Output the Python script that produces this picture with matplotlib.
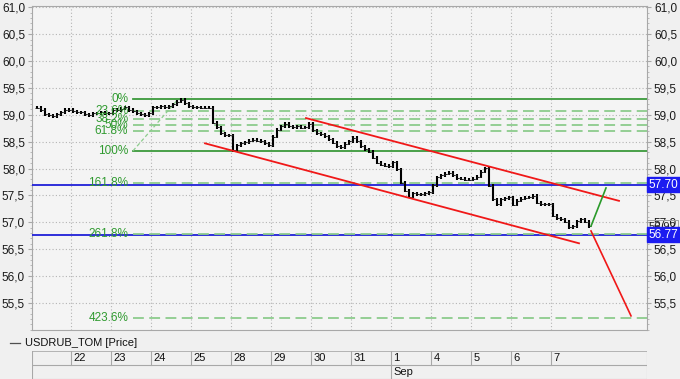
import numpy as np
import matplotlib
matplotlib.use("Agg")
import matplotlib.pyplot as plt
import matplotlib.transforms as mtransforms

plt.rcParams['font.family'] = ['Liberation Sans', 'DejaVu Sans']

# ---------------- data ----------------
day_labels = ["22", "23", "24", "25", "28", "29", "30", "31", "1", "4", "5", "6", "7"]
month_label = "Sep"
month_start_index = 8
series_name = "USDRUB_TOM [Price]"

# hourly closes (10 bars per trading day, 9 bars of the partial day before "22")
closes = [
    59.13, 59.09, 59.01, 58.99, 58.97, 59.01, 59.05, 59.09, 59.09,          # 21 (partial)
    59.07, 59.05, 59.05, 59.01, 58.99, 59.03, 59.03, 59.05, 59.03, 59.03,   # 22
    59.09, 59.09, 59.11, 59.14, 59.09, 59.07, 59.03, 59.01, 58.99, 59.03,   # 23
    59.14, 59.14, 59.16, 59.14, 59.16, 59.20, 59.24, 59.28, 59.22, 59.16,   # 24
    59.14, 59.14, 59.13, 59.13, 59.13, 58.85, 58.77, 58.66, 58.62, 58.62,   # 25
    58.34, 58.43, 58.47, 58.49, 58.52, 58.54, 58.52, 58.51, 58.47, 58.43,   # 28
    58.59, 58.72, 58.79, 58.83, 58.79, 58.77, 58.79, 58.76, 58.77, 58.83,   # 29
    58.71, 58.66, 58.64, 58.60, 58.55, 58.48, 58.42, 58.40, 58.46, 58.51,   # 30
    58.57, 58.51, 58.42, 58.36, 58.31, 58.20, 58.11, 58.07, 58.05, 58.04,   # 31
    58.12, 57.99, 57.74, 57.59, 57.48, 57.54, 57.52, 57.52, 57.54, 57.56,   # 1 Sep
    57.69, 57.84, 57.88, 57.90, 57.92, 57.88, 57.82, 57.81, 57.79, 57.79,   # 4
    57.81, 57.85, 57.94, 58.01, 57.68, 57.43, 57.34, 57.43, 57.45, 57.47,   # 5
    57.33, 57.40, 57.44, 57.46, 57.47, 57.49, 57.36, 57.34, 57.34, 57.34,   # 6
    57.12, 57.08, 57.06, 57.01, 56.91, 56.93, 57.02, 57.06, 57.01, 56.93,   # 7
]
first_bar_offset = -9   # bars before the first labelled day

# Fibonacci retracement
fib_high = 59.29
fib_low = 58.33
fib_ratios = [0.0, 0.236, 0.382, 0.5, 0.618, 1.0, 1.618, 2.618, 4.236]
fib_texts = ["0%", "23.6%", "38.2%", "50%", "61.8%", "100%", "161.8%", "261.8%", "423.6%"]
fib_start_x = 1.55
fib_trend_x = [1.55, 2.675]

# horizontal levels
blue_levels = [57.70, 56.77]
blue_texts = ["57.70", "56.77"]
last_price = 56.92

# channel & projections (x in day units, y in price)
channel_upper_x = [5.875, 13.7]
channel_upper_y = [58.94, 57.40]
channel_lower_x = [3.35, 12.7]
channel_lower_y = [58.47, 56.61]
proj_up_x = [13.0, 13.375]
proj_up_y = [56.93, 57.64]
proj_down_x = [13.0, 14.0]
proj_down_y = [56.84, 55.26]

# ---------------- layout ----------------
W, H = 680, 379
fig = plt.figure(figsize=(W / 100, H / 100), dpi=100)
BG = "#f0f0f0"
fig.patch.set_facecolor(BG)

def fx(px):
    return px / W

def fy(py):
    return 1 - py / H

L, R, T, B = 32, 647, 6, 330
ax = fig.add_axes([fx(L), fy(B), fx(R - L), (B - T) / H])
ax.set_facecolor("#f4f4f4")
XMIN, XMAX = -0.975, 14.4
ax.set_xlim(XMIN, XMAX)
ax.set_ylim(54.997, 61.025)

for s in ax.spines.values():
    s.set_color("#a8a8a8")
    s.set_linewidth(0.8)

yt = np.arange(55.5, 61.01, 0.5)
ax.set_yticks(yt)
ax.set_yticklabels([f"{v:.1f}".replace(".", ",") for v in yt])
ax.set_yticks(np.arange(55.0, 61.01, 0.1), minor=True)
ax.tick_params(axis="y", which="major", left=True, right=True, labelleft=True, labelright=True,
               length=3, width=0.8, color="#a8a8a8", labelsize=8.5, pad=2, labelcolor="#1a1a1a")
ax.tick_params(axis="y", which="minor", left=True, right=True, length=1.5, width=0.6, color="#b0b0b0")
ax.set_xticks(np.arange(0, 13))
ax.tick_params(axis="x", which="both", bottom=False, labelbottom=False)
ax.grid(True, which="major", color="#b4b4b4", linestyle=(0, (1, 2)), linewidth=0.8)
ax.set_axisbelow(True)

# price bars (OHLC style)
xs = (np.arange(len(closes)) + first_bar_offset) * 0.1 + 0.05
c = np.array(closes)
o = np.concatenate([[c[0]], c[:-1]])
hi = np.maximum(o, c) + 0.028
lo = np.minimum(o, c) - 0.028
ax.vlines(xs, lo, hi, color="black", linewidth=1.5, zorder=5)
ax.hlines(o, xs - 0.045, xs, color="#202020", linewidth=0.7, zorder=5)
ax.hlines(c, xs, xs + 0.045, color="#202020", linewidth=0.7, zorder=5)

# blue levels
for lv in blue_levels:
    ax.axhline(lv, color="#2020d8", linewidth=1.3, zorder=3)

# fibonacci
rng = fib_high - fib_low
GREEN_SOLID = "#3c9a3c"
GREEN_DASH = "#8ccc8c"
GREEN_TXT = "#2f9a2f"
for r, t in zip(fib_ratios, fib_texts):
    lv = fib_high - r * rng
    if r in (0.0, 1.0):
        ax.plot([fib_start_x, XMAX], [lv, lv], color=GREEN_SOLID, linewidth=1.3, zorder=4)
    else:
        ax.plot([fib_start_x, XMAX], [lv, lv], color=GREEN_DASH, linewidth=1.3,
                linestyle=(0, (6, 3)), zorder=4)
    ax.text(fib_start_x - 0.12, lv, t, color=GREEN_TXT, fontsize=8.5, ha="right", va="center", zorder=6)
ax.plot(fib_trend_x, [fib_low, fib_high], color=GREEN_DASH, linewidth=0.9,
        linestyle=(0, (3, 2)), zorder=4)

# channel and projections
ax.plot(channel_upper_x, channel_upper_y, color="#f01818", linewidth=1.3, zorder=6)
ax.plot(channel_lower_x, channel_lower_y, color="#f01818", linewidth=1.3, zorder=6)
ax.plot(proj_up_x, proj_up_y, color="#2a9a2a", linewidth=1.2, zorder=6)
ax.plot(proj_down_x, proj_down_y, color="#f01818", linewidth=1.2, zorder=6)

# right-side labels
trans = mtransforms.blended_transform_factory(ax.transAxes, ax.transData)
ax.text(1.003, last_price, "56.92", transform=trans, fontsize=8, color="#222222",
        ha="left", va="center", zorder=7, clip_on=False,
        bbox=dict(boxstyle="square,pad=0.15", facecolor="none", edgecolor="#a0a0a0", linewidth=0.7))
for lv, t in zip(blue_levels, blue_texts):
    ax.text(1.003, lv, t, transform=trans, fontsize=8.5, color="white", ha="left", va="center",
            zorder=8, clip_on=False,
            bbox=dict(boxstyle="square,pad=0.15", facecolor="#1c1cf0", edgecolor="#1c1cf0"))

# legend
fig.add_artist(plt.Line2D([fx(10), fx(20)], [fy(343), fy(343)], color="#505050", linewidth=0.9))
fig.text(fx(25), fy(343), series_name, fontsize=8, color="#111111", ha="left", va="center")

# date table
tax = fig.add_axes([fx(L), fy(379), fx(R - L), (379 - 351) / H])
tax.set_xlim(XMIN, XMAX)
tax.set_ylim(0, 2)
tax.axis("off")
LC = "#a8a8a8"
tax.axhline(2, color=LC, linewidth=1.2)
tax.axhline(1, color=LC, linewidth=0.8)
tax.axhline(0.02, color=LC, linewidth=0.8)
tax.axvline(XMIN, color=LC, linewidth=0.8)
tax.axvline(XMAX, color=LC, linewidth=0.8)
for i, lab in enumerate(day_labels):
    tax.plot([i, i], [1, 2], color=LC, linewidth=0.8)
    tax.text(i + 0.06, 1.5, lab, fontsize=8, color="#111111", ha="left", va="center")
tax.plot([month_start_index, month_start_index], [0, 1], color=LC, linewidth=0.8)
tax.text(month_start_index + 0.06, 0.5, month_label, fontsize=8, color="#111111", ha="left", va="center")

fig.savefig("out.png", dpi=100, facecolor=BG)
